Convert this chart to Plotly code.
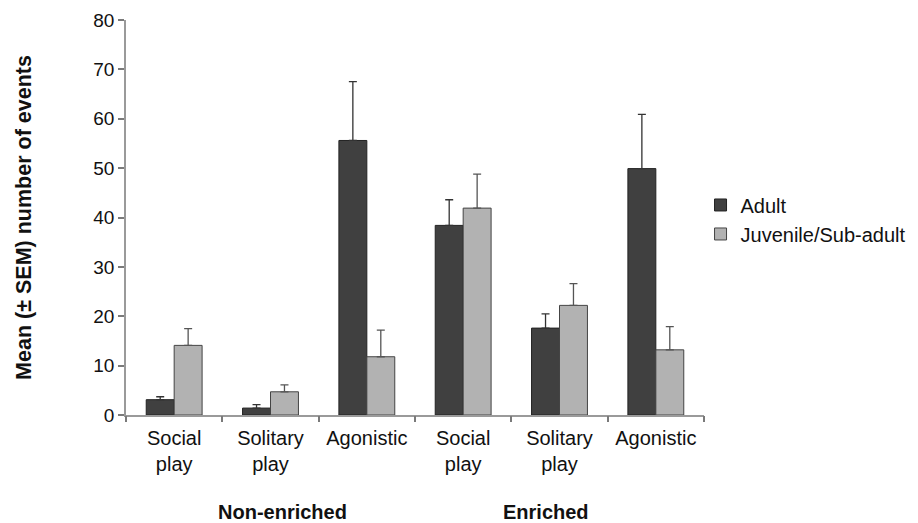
import plotly.graph_objects as go

# Behaviour categories (x positions 0..5) and group labels
categories = ["Social<br>play", "Solitary<br>play", "Agonistic",
              "Social<br>play", "Solitary<br>play", "Agonistic"]
groups = ["Non-enriched", "Enriched"]

# Mean number of events and SEM per age class
adult_mean = [3.1, 1.4, 55.6, 38.4, 17.6, 49.9]
adult_sem = [0.6, 0.7, 11.9, 5.2, 2.9, 11.0]
juvenile_mean = [14.1, 4.7, 11.8, 41.9, 22.2, 13.2]
juvenile_sem = [3.4, 1.4, 5.4, 6.9, 4.4, 4.7]

y_ticks = [0, 10, 20, 30, 40, 50, 60, 70, 80]

x_pos = list(range(len(categories)))
font_family = "Liberation Sans, Arial, sans-serif"

fig = go.Figure()
fig.add_trace(go.Bar(
    name="Adult", x=x_pos, y=adult_mean,
    marker=dict(color="#404040", line=dict(color="#222222", width=1)),
    error_y=dict(type="data", array=adult_sem, arrayminus=[0] * 6,
                 symmetric=False, color="#333333", thickness=1.3, width=4),
))
fig.add_trace(go.Bar(
    name="Juvenile/Sub-adult", x=x_pos, y=juvenile_mean,
    marker=dict(color="#b2b2b2", line=dict(color="#444444", width=1)),
    error_y=dict(type="data", array=juvenile_sem, arrayminus=[0] * 6,
                 symmetric=False, color="#555555", thickness=1.3, width=4),
))

# Invisible trace on the overlay axis that carries the boundary ticks
fig.add_trace(go.Scatter(x=[-0.5, 5.5], y=[0, 0], xaxis="x2", mode="lines",
                         line=dict(width=0), showlegend=False, hoverinfo="skip"))

fig.update_layout(
    width=918, height=523,
    margin=dict(l=126, r=214, t=20, b=108, autoexpand=False),
    paper_bgcolor="white", plot_bgcolor="white",
    barmode="group", bargap=0.42, bargroupgap=0,
    font=dict(family=font_family, size=20, color="#111111"),
    xaxis=dict(
        range=[-0.5, 5.5], tickmode="array", tickvals=x_pos, ticktext=categories,
        ticks="outside", ticklen=4, tickcolor="rgba(0,0,0,0)",
        tickfont=dict(size=20),
        showline=True, linecolor="#9a9a9a", linewidth=1.5,
        showgrid=False, zeroline=False, fixedrange=True,
    ),
    xaxis2=dict(
        overlaying="x", range=[-0.5, 5.5], tickmode="array",
        tickvals=[-0.5, 0.5, 1.5, 2.5, 3.5, 4.5, 5.5],
        ticks="outside", ticklen=6, tickcolor="#7a7a7a", tickwidth=1.5,
        showticklabels=False, showline=False, showgrid=False, zeroline=False,
        side="bottom", anchor="y",
    ),
    yaxis=dict(
        range=[0, 80], tickmode="array", tickvals=y_ticks,
        ticks="outside", ticklen=6, tickcolor="#7a7a7a", tickwidth=1.5,
        tickfont=dict(size=19),
        showline=True, linecolor="#9a9a9a", linewidth=1.5,
        showgrid=False, zeroline=False,
        title=dict(text="<b>Mean (± SEM) number of events</b>",
                   font=dict(size=21.5), standoff=56),
    ),
    legend=dict(
        x=0.994, y=0.495, xanchor="left", yanchor="middle",
        font=dict(size=20), itemwidth=30, tracegroupgap=0,
        bgcolor="rgba(0,0,0,0)",
    ),
    showlegend=True,
)

# Group labels under the category axis
group_x = [1.12, 3.86]
for gx, label in zip(group_x, groups):
    fig.add_annotation(
        x=gx, y=-0.245, xref="x", yref="paper", text=f"<b>{label}</b>",
        showarrow=False, font=dict(size=20), xanchor="center", yanchor="middle",
    )

fig.write_html("out.html")
